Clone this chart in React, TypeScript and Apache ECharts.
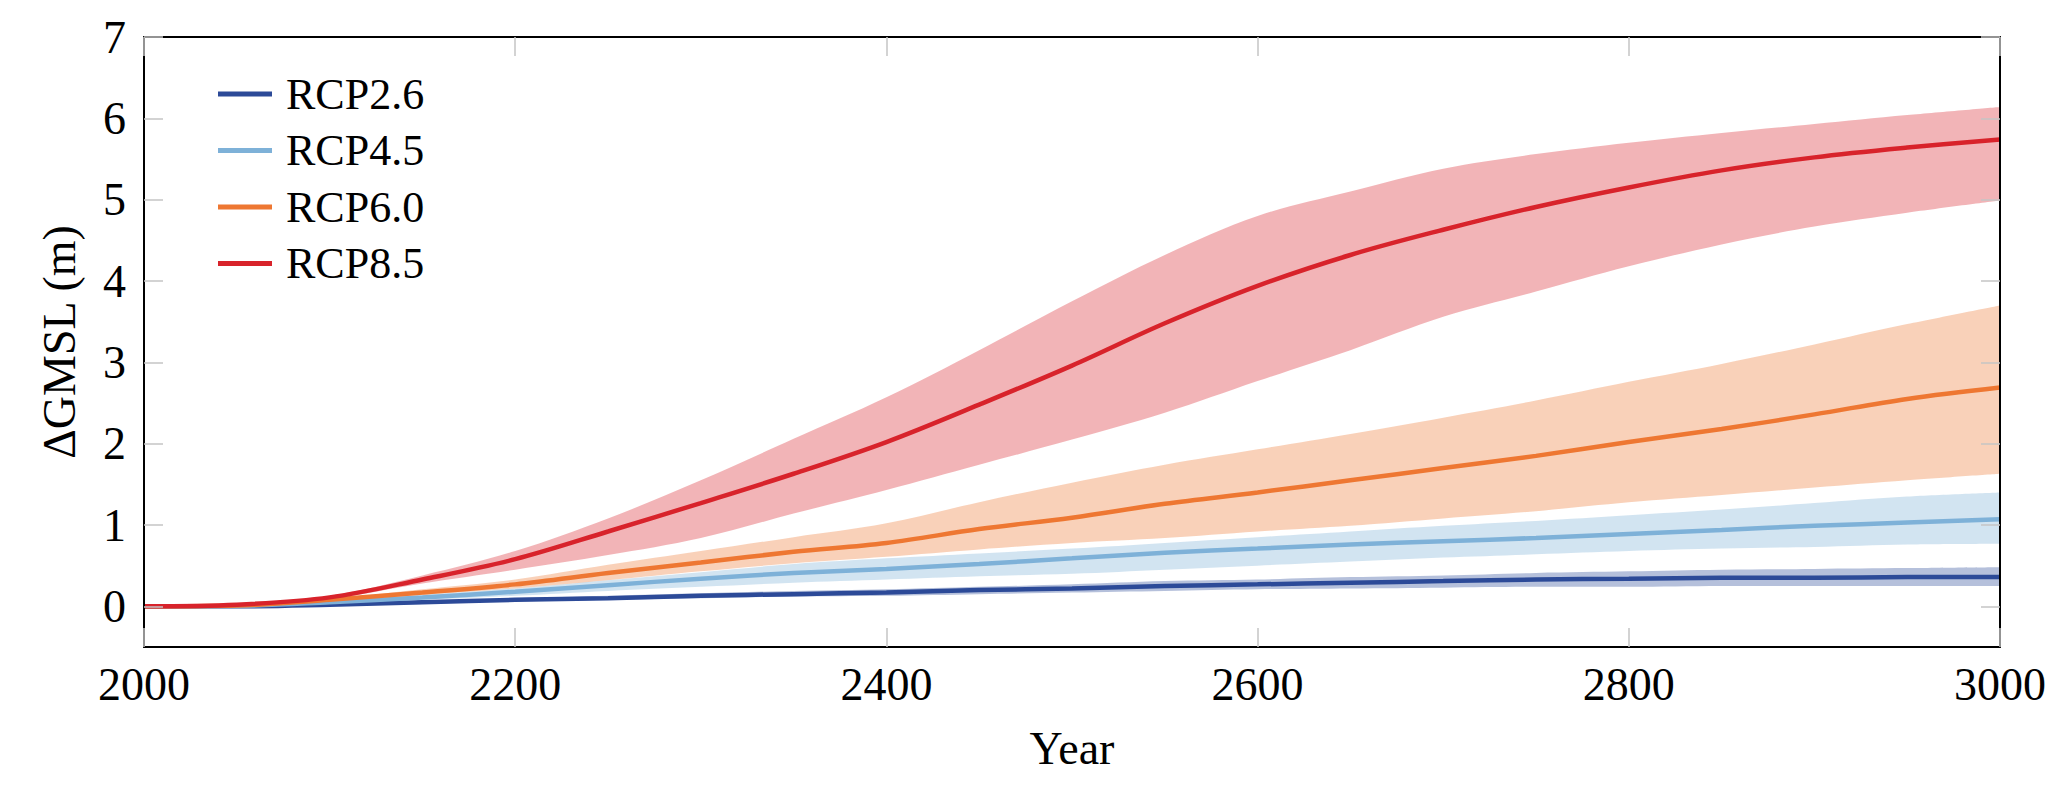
import React, { useEffect, useRef } from 'react';
import * as echarts from 'echarts';

const years = ['2000', '2050', '2100', '2150', '2200', '2250', '2300', '2350', '2400', '2450', '2500', '2550', '2600', '2650', '2700', '2750', '2800', '2850', '2900', '2950', '3000'];

const rcp85Mid = [0, 0.02, 0.11, 0.33, 0.58, 0.92, 1.27, 1.63, 2.02, 2.48, 2.96, 3.48, 3.94, 4.32, 4.63, 4.91, 5.15, 5.36, 5.52, 5.64, 5.74];
const rcp85Hi = [0, 0.02, 0.13, 0.38, 0.68, 1.08, 1.55, 2.06, 2.57, 3.15, 3.75, 4.32, 4.80, 5.10, 5.38, 5.56, 5.70, 5.82, 5.93, 6.04, 6.14];
const rcp85Lo = [0, 0.01, 0.09, 0.28, 0.45, 0.63, 0.84, 1.14, 1.43, 1.74, 2.05, 2.38, 2.77, 3.15, 3.56, 3.87, 4.18, 4.45, 4.67, 4.84, 4.99];

const rcp60Mid = [0, 0.01, 0.08, 0.17, 0.27, 0.41, 0.54, 0.67, 0.78, 0.95, 1.09, 1.26, 1.40, 1.55, 1.70, 1.85, 2.02, 2.18, 2.36, 2.55, 2.69];
const rcp60Hi = [0, 0.01, 0.09, 0.21, 0.33, 0.51, 0.68, 0.85, 1.02, 1.28, 1.52, 1.74, 1.93, 2.12, 2.32, 2.53, 2.76, 2.98, 3.22, 3.47, 3.70];
const rcp60Lo = [0, 0.005, 0.06, 0.14, 0.22, 0.32, 0.43, 0.53, 0.61, 0.70, 0.78, 0.84, 0.92, 0.99, 1.08, 1.17, 1.28, 1.37, 1.46, 1.55, 1.63];

const rcp45Mid = [0, 0.005, 0.05, 0.11, 0.18, 0.26, 0.34, 0.41, 0.46, 0.52, 0.59, 0.66, 0.71, 0.76, 0.80, 0.84, 0.89, 0.94, 0.99, 1.03, 1.07];
const rcp45Hi = [0, 0.01, 0.06, 0.14, 0.22, 0.32, 0.42, 0.52, 0.59, 0.65, 0.71, 0.78, 0.85, 0.92, 0.99, 1.05, 1.12, 1.19, 1.27, 1.35, 1.40];
const rcp45Lo = [0, 0, 0.03, 0.08, 0.13, 0.19, 0.24, 0.29, 0.33, 0.37, 0.40, 0.45, 0.50, 0.55, 0.60, 0.64, 0.68, 0.71, 0.73, 0.76, 0.77];

const rcp26Mid = [0, 0, 0.02, 0.05, 0.08, 0.10, 0.13, 0.15, 0.17, 0.20, 0.22, 0.25, 0.27, 0.29, 0.31, 0.33, 0.34, 0.35, 0.35, 0.36, 0.36];
const rcp26Hi = [0, 0.005, 0.03, 0.06, 0.10, 0.13, 0.16, 0.19, 0.21, 0.24, 0.27, 0.31, 0.33, 0.36, 0.38, 0.41, 0.43, 0.45, 0.46, 0.47, 0.48];
const rcp26Lo = [0, 0, 0.01, 0.03, 0.06, 0.08, 0.10, 0.12, 0.13, 0.15, 0.17, 0.19, 0.21, 0.22, 0.23, 0.24, 0.24, 0.25, 0.25, 0.25, 0.25];

const yTicks = [0, 1, 2, 3, 4, 5, 6, 7];

const scenarios = [
  { key: 'b26', name: 'RCP2.6', color: '#2c4a98', band: 'rgba(44,74,152,0.35)', mid: rcp26Mid, lo: rcp26Lo, hi: rcp26Hi },
  { key: 'b45', name: 'RCP4.5', color: '#7eb1d8', band: 'rgba(126,177,216,0.35)', mid: rcp45Mid, lo: rcp45Lo, hi: rcp45Hi },
  { key: 'b60', name: 'RCP6.0', color: '#ee7732', band: 'rgba(238,119,50,0.34)', mid: rcp60Mid, lo: rcp60Lo, hi: rcp60Hi },
  { key: 'b85', name: 'RCP8.5', color: '#d8232b', band: 'rgba(216,35,43,0.34)', mid: rcp85Mid, lo: rcp85Lo, hi: rcp85Hi },
];

const FONT = "'Liberation Serif', 'DejaVu Serif', serif";
const SMOOTH = 0.35;

export default function App() {
  const ref = useRef<HTMLDivElement>(null);
  useEffect(() => {
    document.body.style.margin = '0';
    if (!ref.current) return;
    const chart = echarts.init(ref.current, null, { renderer: 'svg' });

    const tickStyle = { show: true, inside: true, length: 19, interval: 3, alignWithLabel: true, lineStyle: { color: '#c4c4c4', width: 1.5 } };
    const yTickStyle = { show: true, inside: true, length: 19, customValues: yTicks, lineStyle: { color: '#c4c4c4', width: 1.5 } };
    const frame = { show: true, onZero: false, lineStyle: { color: '#000', width: 2 } };

    const bandSeries: any[] = [];
    [...scenarios].reverse().forEach((s) => {
      bandSeries.push({
        type: 'line', name: s.name + ' lo', stack: s.key, data: s.lo,
        symbol: 'none', showSymbol: false, smooth: SMOOTH, silent: true,
        lineStyle: { opacity: 0, width: 0 }, z: 1,
      });
      bandSeries.push({
        type: 'line', name: s.name + ' band', stack: s.key, data: s.hi.map((h, i) => h - s.lo[i]),
        symbol: 'none', showSymbol: false, smooth: SMOOTH, silent: true,
        lineStyle: { opacity: 0, width: 0 }, areaStyle: { color: s.band, opacity: 1 }, z: 1,
      });
    });

    const lineSeries = scenarios.map((s) => ({
      type: 'line',
      name: s.name,
      data: s.mid,
      symbol: 'none',
      showSymbol: false,
      smooth: SMOOTH,
      color: s.color,
      lineStyle: { color: s.color, width: 4.5 },
      z: 3,
    }));

    chart.setOption({
      animation: false,
      textStyle: { fontFamily: FONT },
      grid: { left: 144, right: 67, top: 37, bottom: 138 },
      legend: {
        data: scenarios.map((s) => s.name),
        orient: 'vertical',
        left: 218,
        top: 71,
        padding: 0,
        itemGap: 10.5,
        itemWidth: 54,
        itemHeight: 5,
        icon: 'rect',
        textStyle: { fontFamily: FONT, fontSize: 44, lineHeight: 46, color: '#000', padding: [0, 0, 0, 9] },
      },
      xAxis: [
        {
          type: 'category', position: 'bottom', data: years, boundaryGap: false, z: 10,
          name: 'Year', nameLocation: 'middle', nameGap: 78,
          nameTextStyle: { fontFamily: FONT, fontSize: 46, color: '#000' },
          axisLine: frame, axisTick: tickStyle, splitLine: { show: false },
          axisLabel: { fontFamily: FONT, fontSize: 46, color: '#000', margin: 14, interval: 3 },
        },
        {
          type: 'category', position: 'top', data: years, boundaryGap: false, z: 10,
          axisLine: frame, axisTick: tickStyle, splitLine: { show: false }, axisLabel: { show: false },
        },
      ],
      yAxis: [
        {
          type: 'value', position: 'left', min: -0.5, max: 7, z: 10,
          name: 'ΔGMSL (m)', nameLocation: 'middle', nameGap: 62,
          nameTextStyle: { fontFamily: FONT, fontSize: 46, color: '#000' },
          axisLine: frame, axisTick: yTickStyle, splitLine: { show: false },
          axisLabel: { fontFamily: FONT, fontSize: 46, color: '#000', margin: 18, customValues: yTicks },
        },
        {
          type: 'value', position: 'right', min: -0.5, max: 7, z: 10,
          axisLine: frame, axisTick: yTickStyle, splitLine: { show: false },
          axisLabel: { show: false },
        },
      ],
      series: [...bandSeries, ...lineSeries],
    });
    return () => chart.dispose();
  }, []);
  return <div ref={ref} style={{ width: 2067, height: 785 }} />;
}
